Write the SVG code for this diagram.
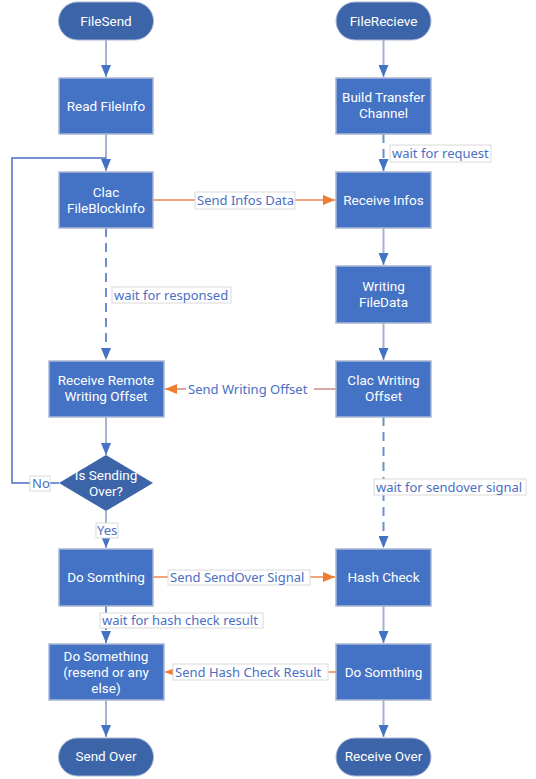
<svg xmlns="http://www.w3.org/2000/svg" width="536" height="779" viewBox="0 0 536 779">
<style>
.box{fill:#4472c4;stroke:#a9b8d4;stroke-width:1.5}
.term{fill:#3b64a9;stroke:#a9b8d4;stroke-width:1}
.nt{font-family:Roboto,"Noto Sans",sans-serif;font-size:13.5px;fill:#ffffff;text-anchor:middle}
.lt{font-family:"Noto Sans","Open Sans",sans-serif;font-size:13px;fill:#4a6fc4}
.lb{fill:#ffffff;stroke:#dadada;stroke-width:1}
.flow{fill:none;stroke:#a3b2cf;stroke-width:2}
.dash{fill:none;stroke:#6d8fd0;stroke-width:2;stroke-dasharray:9,6}
.loop{fill:none;stroke:#4a6fc4;stroke-width:1.5}
.or{fill:none;stroke:#f0a679;stroke-width:2}
.or2{fill:none;stroke:#dba7a6;stroke-width:2}
</style>
<defs>
<marker id="ab" markerWidth="12" markerHeight="10" refX="12" refY="5" orient="auto" markerUnits="userSpaceOnUse"><path d="M0,0 L12,5 L0,10 Z" fill="#4472c4"/></marker>
<marker id="ao" markerWidth="12" markerHeight="10" refX="12" refY="5" orient="auto" markerUnits="userSpaceOnUse"><path d="M0,0 L12,5 L0,10 Z" fill="#ed7d31"/></marker>
</defs>
<rect width="536" height="779" fill="#ffffff"/>
<g id="connectors">
<path class="flow" d="M106,40 V77" marker-end="url(#ab)"/>
<path class="flow" d="M106,134 V171" marker-end="url(#ab)"/>
<path class="loop" d="M59,483 H12 V158 H106"/>
<path class="dash" d="M106,228 V360" marker-end="url(#ab)"/>
<path class="flow" d="M106,417 V455" marker-end="url(#ab)"/>
<path class="flow" d="M106,511 V548" marker-end="url(#ab)"/>
<path class="dash" d="M106,606 V643" marker-end="url(#ab)"/>
<path class="flow" d="M106,700 V737" marker-end="url(#ab)"/>
<path class="flow" d="M383.5,40 V77" marker-end="url(#ab)"/>
<path class="dash" d="M383.5,134 V171" marker-end="url(#ab)"/>
<path class="flow" d="M383.5,228 V265" marker-end="url(#ab)"/>
<path class="flow" d="M383.5,323 V360" marker-end="url(#ab)"/>
<path class="dash" d="M383.5,417 V548" marker-end="url(#ab)"/>
<path class="flow" d="M383.5,606 V643" marker-end="url(#ab)"/>
<path class="flow" d="M383.5,700 V737" marker-end="url(#ab)"/>
<path class="or" d="M153,200 H335" marker-end="url(#ao)"/>
<path class="or2" d="M336,389 H165" marker-end="url(#ao)"/>
<path class="or" d="M153,577 H335" marker-end="url(#ao)"/>
<path class="or" d="M336,672 H165" marker-end="url(#ao)"/>
<rect class="lb" x="390" y="145" width="101" height="17"/>
<text class="lt" x="392" y="158">wait for request</text>
<rect class="lb" x="195" y="192" width="100" height="17"/>
<text class="lt" x="197" y="205">Send Infos Data</text>
<rect class="lb" x="112" y="287" width="119" height="16"/>
<text class="lt" x="114" y="300">wait for responsed</text>
<rect x="186" y="381" width="128" height="16" fill="#ffffff"/>
<text class="lt" x="188" y="394">Send Writing Offset</text>
<rect class="lb" x="30" y="476" width="20" height="15"/>
<text class="lt" x="32" y="488">No</text>
<rect class="lb" x="374" y="479" width="152" height="16"/>
<text class="lt" x="376" y="492">wait for sendover signal</text>
<rect class="lb" x="96" y="523" width="22" height="15"/>
<text class="lt" x="97" y="535">Yes</text>
<rect class="lb" x="168" y="570" width="142" height="15"/>
<text class="lt" x="170" y="582">Send SendOver Signal</text>
<rect class="lb" x="100" y="613" width="163" height="15"/>
<text class="lt" x="102" y="625">wait for hash check result</text>
<rect class="lb" x="173" y="664" width="155" height="16"/>
<text class="lt" x="175" y="677">Send Hash Check Result</text>
</g>
<g id="n-filesend"><rect class="term" x="58.5" y="2" width="95" height="38" rx="19"/><text class="nt" x="106" y="25.5">FileSend</text></g>
<g id="n-readinfo"><rect class="box" x="59" y="78" width="94" height="56"/><text class="nt" x="106" y="110.5">Read FileInfo</text></g>
<g id="n-clacblock"><rect class="box" x="59" y="172" width="94" height="56"/><text class="nt" x="106" y="197">Clac</text><text class="nt" x="106" y="213">FileBlockInfo</text></g>
<g id="n-recvremote"><rect class="box" x="49" y="361" width="115" height="56"/><text class="nt" x="106" y="385">Receive Remote</text><text class="nt" x="106" y="401">Writing Offset</text></g>
<g id="n-issending"><path d="M106,455 L153,483 L106,511 L59,483 Z" fill="#3b64a9"/><text class="nt" x="106" y="480">Is Sending</text><text class="nt" x="106" y="496">Over?</text></g>
<g id="n-dosomthing-l"><rect class="box" x="59" y="549" width="94" height="57"/><text class="nt" x="106" y="582">Do Somthing</text></g>
<g id="n-dosomething-l2"><rect class="box" x="49" y="644" width="115" height="56"/><text class="nt" x="106" y="661">Do Something</text><text class="nt" x="106" y="677">(resend or any</text><text class="nt" x="106" y="693">else)</text></g>
<g id="n-sendover"><rect class="term" x="58.5" y="738" width="95" height="38" rx="19"/><text class="nt" x="106" y="761">Send Over</text></g>
<g id="n-filerecieve"><rect class="term" x="336" y="2" width="95" height="38" rx="19"/><text class="nt" x="383.5" y="25.5">FileRecieve</text></g>
<g id="n-build"><rect class="box" x="336" y="78" width="95" height="56"/><text class="nt" x="383.5" y="102">Build Transfer</text><text class="nt" x="383.5" y="118">Channel</text></g>
<g id="n-recvinfos"><rect class="box" x="336" y="172" width="95" height="56"/><text class="nt" x="383.5" y="205">Receive Infos</text></g>
<g id="n-writing"><rect class="box" x="336" y="266" width="95" height="57"/><text class="nt" x="383.5" y="291">Writing</text><text class="nt" x="383.5" y="307">FileData</text></g>
<g id="n-clacwriting"><rect class="box" x="336" y="361" width="95" height="56"/><text class="nt" x="383.5" y="385">Clac Writing</text><text class="nt" x="383.5" y="401">Offset</text></g>
<g id="n-hash"><rect class="box" x="336" y="549" width="95" height="57"/><text class="nt" x="383.5" y="582">Hash Check</text></g>
<g id="n-dosomthing-r"><rect class="box" x="336" y="644" width="95" height="56"/><text class="nt" x="383.5" y="677">Do Somthing</text></g>
<g id="n-recvover"><rect class="term" x="336" y="738" width="95" height="38" rx="19"/><text class="nt" x="383.5" y="761">Receive Over</text></g>
</svg>
